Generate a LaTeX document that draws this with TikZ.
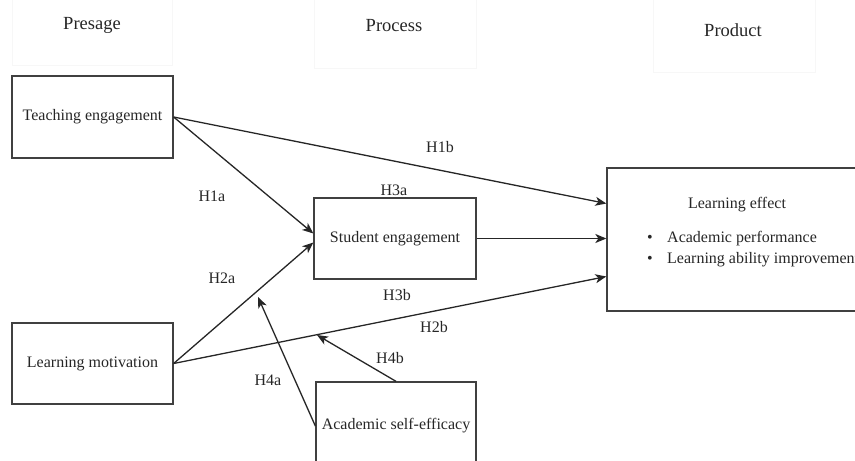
\documentclass[tikz,border=0pt]{standalone}
\usepackage{fontspec}
\setmainfont{Liberation Serif}
\usetikzlibrary{arrows.meta,calc}
\begin{document}
\begin{tikzpicture}[x=1pt,y=-1pt,
  box/.style={draw=black!75, line width=1.3pt, rectangle, inner sep=0pt, text=black!85, font=\fontsize{16}{19}\selectfont},
  hdrbox/.style={draw=black!3, line width=0.8pt},
  hdr/.style={font=\fontsize{18.5}{22}\selectfont, inner sep=0pt, text=black!85},
  lbl/.style={font=\fontsize{16}{19}\selectfont, inner sep=0pt, text=black!85},
  arr/.style={draw=black!85, line width=1.3pt, -{Stealth[length=11pt,width=9pt,inset=3pt]}},
]
\useasboundingbox (0,0) rectangle (855,461);
\clip (0,0) rectangle (855,461);
% faint header boxes
\draw[hdrbox] (12,-2) rectangle (172,65);
\draw[hdrbox] (314,-2) rectangle (476,68);
\draw[hdrbox] (653,-2) rectangle (815,72);
\node[hdr] (hPre) at (92,25) {Presage};
\node[hdr] (hPro) at (394,26) {Process};
\node[hdr] (hPrd) at (733,30) {Product};
% boxes
\node[box, minimum width=161pt, minimum height=82pt] (TE) at (92.5,117) {Teaching engagement};
\node[box, minimum width=161pt, minimum height=81pt] (LM) at (92.5,363.5) {Learning motivation};
\node[box, minimum width=162pt, minimum height=81pt] (SE) at (395,238.5) {Student engagement};
\node[box, minimum width=160pt, minimum height=88pt] (ASE) at (396,426) {Academic self-efficacy};
\node[box, minimum width=273pt, minimum height=143pt] (LE) at (743.5,239.5) {};
\node[lbl] (LEt) at (737,205) {Learning effect};
\node[lbl, anchor=center] (b1) at (650,239) {\textbullet};
\node[lbl, anchor=west] (t1) at (667,239) {Academic performance};
\node[lbl, anchor=center] (b2) at (650,260) {\textbullet};
\node[lbl, anchor=west] (t2) at (667,260) {Learning ability improvement};
% connectors
\coordinate (m4a) at (258,297);
\coordinate (m4b) at (317,335);
\draw[arr] (TE.east) -- ($(LE.west)+(0,-36)$);
\draw[arr] (TE.east) -- ($(SE.west)+(0,-5)$);
\draw[arr] (LM.east) -- ($(SE.west)+(0,4)$);
\draw[arr] (SE.east) -- (SE.east -| LE.west);
\draw[arr] (LM.east) -- ($(LE.west)+(0,37)$);
\draw[arr] (ASE.west) -- (m4a);
\draw[arr] (ASE.north) -- (m4b);
% labels
\node[lbl] (H1a) at (212,196) {H1a};
\node[lbl] (H1b) at (440,147) {H1b};
\node[lbl] (H2a) at (222,278) {H2a};
\node[lbl] (H3a) at (394,190) {H3a};
\node[lbl] (H3b) at (397,295) {H3b};
\node[lbl] (H2b) at (434,327) {H2b};
\node[lbl] (H4b) at (390,358) {H4b};
\node[lbl] (H4a) at (268,380) {H4a};
\end{tikzpicture}
\end{document}
